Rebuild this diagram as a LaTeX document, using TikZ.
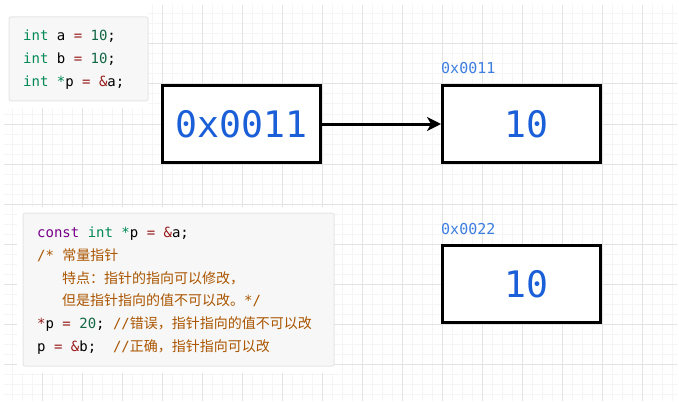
\documentclass[tikz,border=0pt]{standalone}
\usepackage{fontspec}
\usetikzlibrary{arrows.meta}
\newfontfamily\codefont{DejaVu Sans Mono}
\newfontfamily\cjk{Noto Sans CJK SC}
\definecolor{kwtype}{HTML}{008855}
\definecolor{kwconst}{HTML}{770088}
\definecolor{numc}{HTML}{116644}
\definecolor{opc}{HTML}{981A1A}
\definecolor{cmtc}{HTML}{AA5500}
\definecolor{bigblue}{HTML}{1A5FD8}
\definecolor{addrblue}{HTML}{3D7FE0}
\definecolor{gridmajor}{HTML}{E3E3E3}
\definecolor{gridminor}{HTML}{F5F5F5}
\definecolor{codebg}{HTML}{F7F7F7}
\definecolor{codeframe}{HTML}{E6E6E6}
\newcommand\ctype[1]{\textcolor{kwtype}{#1}}
\newcommand\ckey[1]{\textcolor{kwconst}{#1}}
\newcommand\cnum[1]{\textcolor{numc}{#1}}
\newcommand\cop[1]{\textcolor{opc}{#1}}
\newcommand\ccmt[1]{\textcolor{cmtc}{#1}}

\begin{document}
\begin{tikzpicture}[x=1pt,y=-1pt,
    membox/.style={draw=black,fill=white,line width=3pt,minimum width=158pt,minimum height=77pt,
      inner sep=0pt,text=bigblue,font=\codefont\fontsize{36.5}{36.5}\selectfont,text height=26pt,text depth=0pt},
    addr/.style={anchor=west,inner sep=0pt,text=addrblue,font=\codefont\fontsize{15}{15}\selectfont,
      text height=11pt,text depth=0pt},
    code/.style={anchor=base west,inner sep=0pt,font=\codefont\fontsize{14}{14}\selectfont},
    codebox/.style={fill=codebg,draw=codeframe,line width=1pt,rounded corners=2pt}]
    \useasboundingbox (0,0) rectangle (679,401);
    \fill[white] (0,0) rectangle (679,401);
    % grid
    \begin{scope}[line width=1pt]
        \clip (4,5) rectangle (677,401);
        \foreach \x in {12,22,...,672} \draw[gridminor] (\x,5) -- (\x,401);
        \foreach \y in {14,24,...,394} \draw[gridminor] (4,\y) -- (677,\y);
        \foreach \x in {42,82,...,642} \draw[gridmajor] (\x,5) -- (\x,401);
        \foreach \y in {44,84,...,364} \draw[gridmajor] (4,\y) -- (677,\y);
    \end{scope}
    % code blocks
    \fill[white] (4,5) rectangle (148,108);
    \draw[codebox] (9,17) rectangle (148,101);
    \fill[white] (17,207) rectangle (334,373);
    \draw[codebox] (23,213) rectangle (334,366);
    \node[code] (d1) at (23,41) {\ctype{int} a \cop{=} \cnum{10};};
    \node[code] (d2) at (23,64) {\ctype{int} b \cop{=} \cnum{10};};
    \node[code] (d3) at (23,87) {\ctype{int *}p \cop{=} \cop{\&}a;};
    \node[code] (c1) at (37,237) {\ckey{const} \ctype{int *}p \cop{=} \cop{\&}a;};
    \node[code] (c2) at (37,260) {\ccmt{/* {\cjk 常量指针}}};
    \node[code] (c3) at (62,283) {\ccmt{\cjk 特点：指针的指向可以修改，}};
    \node[code] (c4) at (62,305) {\ccmt{{\cjk 但是指针指向的值不可以改。}*/}};
    \node[code] (c5) at (37,328) {\cop{*}p \cop{=} \cnum{20}; \ccmt{//{\cjk 错误，指针指向的值不可以改}}};
    \node[code] (c6) at (37,351) {p \cop{=} \cop{\&}b;~~\ccmt{//{\cjk 正确，指针指向可以改}}};
    % memory cells
    \node[membox] (ptr) at (241.5,124) {0x0011};
    \node[membox] (vala) at (521.5,124) {\hspace*{9pt}10};
    \node[membox] (valb) at (521.5,284) {\hspace*{9pt}10};
    \node[addr] (adra) at (441,68) {0x0011};
    \node[addr] (adrb) at (441,229) {0x0022};
    \draw[line width=3pt,-{Stealth[length=14pt,width=14pt,inset=4pt]}] (ptr) -- (vala);
\end{tikzpicture}
\end{document}
